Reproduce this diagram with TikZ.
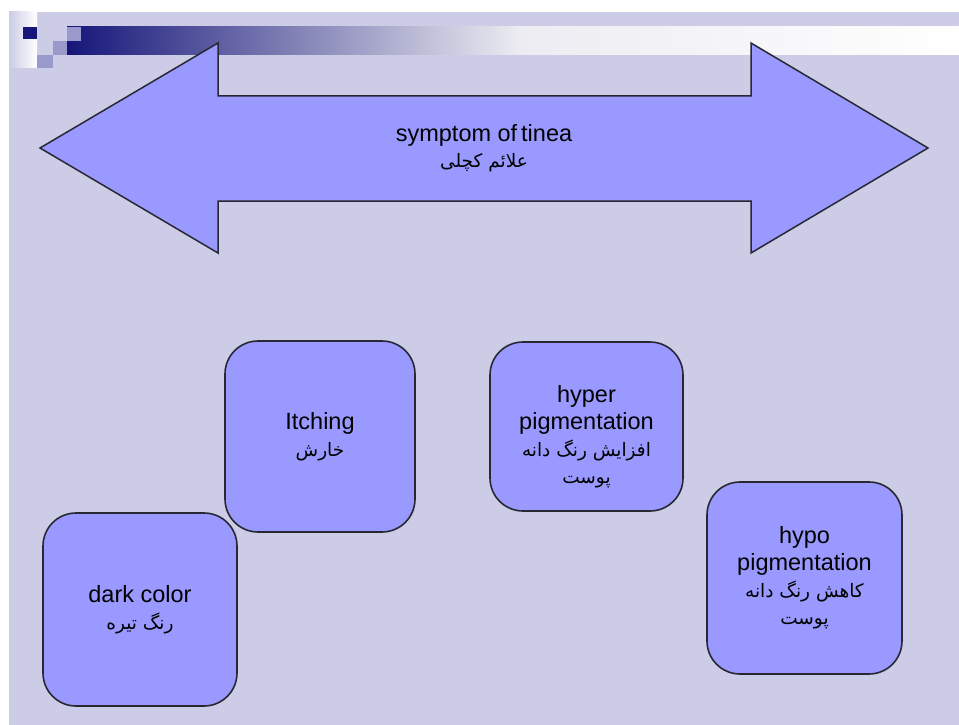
\documentclass[tikz,border=0pt]{standalone}
\usepackage{fontspec}
\setmainfont{Liberation Sans}
\newfontfamily\arabicfont[Script=Arabic]{DejaVu Sans}
\TeXXeTstate=1
\definecolor{bglav}{RGB}{204,204,230}
\definecolor{boxfill}{RGB}{153,153,255}
\definecolor{edgecol}{RGB}{40,40,52}
\definecolor{navy}{RGB}{22,22,122}
\definecolor{midpurple}{RGB}{153,153,204}
\definecolor{barend}{RGB}{236,236,242}
\newcommand\fatext[1]{{\arabicfont\fontsize{18.5}{28}\selectfont\beginR #1\endR}}
\begin{document}
\begin{tikzpicture}[x=1pt,y=-1pt,
  symbox/.style={draw=edgecol, line width=1.6pt, fill=boxfill, rounded corners=33pt,
    inner sep=0pt, align=center, font=\fontsize{23.5}{27}\selectfont},
  bigarrow/.style={draw=edgecol, line width=1.5pt, fill=boxfill, line join=miter}]
\useasboundingbox (0,0) rectangle (959,725);
% slide background
\fill[white] (0,0) rectangle (959,725);
\fill[bglav] (9,12) rectangle (959,725);
\shade[left color=bglav, right color=white] (9,12) rectangle (37,68);
\fill[navy] (23,27) rectangle (37,39);
\shade[left color=navy, right color=barend] (67,27) rectangle (520,55);
\shade[left color=barend, right color=white] (520,27) rectangle (959,55);
\fill[midpurple] (67,27) rectangle (81,41);
\fill[midpurple] (53,41) rectangle (67,55);
\fill[midpurple] (37,55) rectangle (53,68);
% double arrow
\draw[bigarrow] (40,148) -- (218,43) -- (218,96) -- (751,96) -- (751,43) -- (928,148)
  -- (751,253) -- (751,201) -- (218,201) -- (218,253) -- cycle;
\node[align=center, font=\fontsize{23.5}{26}\selectfont] (title) at (484,148)
  {symptom of\,tinea\\ \fatext{علائم کچلی}};
% boxes
\node[symbox, minimum width=190pt, minimum height=191pt] (itch) at (320,436.5)
  {Itching\\ \fatext{خارش}};
\node[symbox, minimum width=193pt, minimum height=169pt] (hyper) at (586.5,426.5)
  {\rule{0pt}{38pt}hyper\\ pigmentation\\ \fatext{افزایش رنگ دانه}\\ \fatext{پوست}};
\node[symbox, minimum width=195pt, minimum height=192pt] (hypo) at (804.5,578)
  {hypo\\ pigmentation\\ \fatext{کاهش رنگ دانه}\\ \fatext{پوست}};
\node[symbox, minimum width=194pt, minimum height=193pt] (dark) at (140,609.5)
  {dark color\\ \fatext{رنگ تیره}};
\end{tikzpicture}
\end{document}
